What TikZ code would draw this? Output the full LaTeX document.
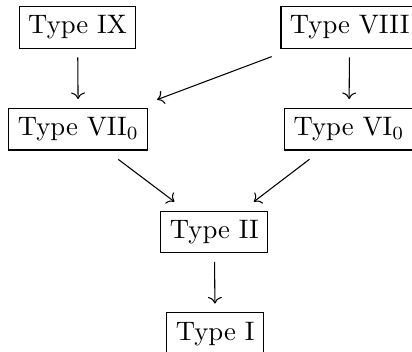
\documentclass[tikz,border=0pt]{standalone}
\usepackage{tikz}
\usetikzlibrary{arrows.meta}

\begin{document}
\begin{tikzpicture}[
    typebox/.style={draw, outer sep=3.5pt},
    arr/.style={-{To}}
]
    \useasboundingbox (0, 0) rectangle (5.42, -4.63);

    % Top row
    \node[typebox] (ix) at (1.02, -0.36) {Type IX};
    \node[typebox] (viii) at (4.60, -0.36) {Type VIII};

    % Second row
    \node[typebox] (viio) at (1.03, -1.70) {Type VII$_0$};
    \node[typebox] (vio) at (4.59, -1.70) {Type VI$_0$};

    % Bottom
    \node[typebox] (ii) at (2.82, -3.05) {Type II};
    \node[typebox] (i) at (2.83, -4.39) {Type I};

    \draw[arr] (ix) -- (viio);
    \draw[arr] (viii) -- (viio);
    \draw[arr] (viii) -- (vio);
    \draw[arr] (viio) -- (ii);
    \draw[arr] (vio) -- (ii);
    \draw[arr] (ii) -- (i);
\end{tikzpicture}
\end{document}
